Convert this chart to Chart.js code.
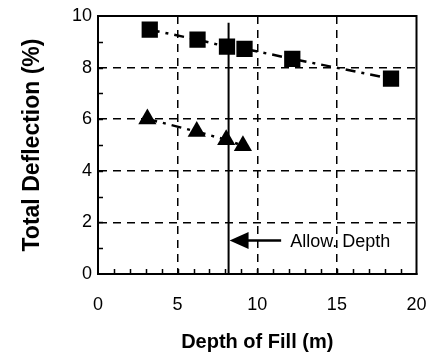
<!DOCTYPE html>
<html>
<head>
<meta charset="utf-8">
<script src="https://cdn.jsdelivr.net/npm/chart.js@4/dist/chart.umd.min.js"></script>
<style>
  html, body { margin: 0; padding: 0; background: #fff; }
  #wrap { width: 428px; height: 359px; }
</style>
</head>
<body>
<div id="wrap"><canvas id="c" width="428" height="359"></canvas></div>
<script>
// ---- data ----
const squareDepth = [3.25, 6.25, 8.1, 9.2, 12.2, 18.4];
const squareDefl  = [9.47, 9.08, 8.81, 8.73, 8.34, 7.57];
const triDepth    = [3.1, 6.2, 8.05, 9.1];
const triDefl     = [6.01, 5.52, 5.2, 4.97];
const allowDepth  = 8.2;        // vertical "allowable depth" line
const allowTop    = 9.74;       // top of that line
const arrowY      = 1.3;        // arrow level
const arrowEndX   = 11.5;       // tail of arrow
const arrowLabel  = 'Allow. Depth';
const xTicks = [0, 5, 10, 15, 20];
const yTicks = [0, 2, 4, 6, 8, 10];
const xTitle = 'Depth of Fill (m)';
const yTitle = 'Total Deflection (%)';

const FONT = "'Liberation Sans', Arial, Helvetica, sans-serif";

const pts = (xs, ys) => xs.map((x, i) => ({ x: x, y: ys[i] }));

const decor = {
  id: 'decor',
  beforeDatasetsDraw(chart) {
    const { ctx, chartArea: a, scales: { x, y } } = chart;
    ctx.save();
    ctx.strokeStyle = '#000';
    ctx.lineWidth = 1.5;
    // inward minor ticks on left and bottom axes
    ctx.beginPath();
    for (let v = 1; v < 10; v++) {
      const py = Math.round(y.getPixelForValue(v)) + 0.5;
      ctx.moveTo(a.left, py); ctx.lineTo(a.left + 5, py);
    }
    for (let v = 1; v < 20; v++) {
      const px = Math.round(x.getPixelForValue(v)) + 0.5;
      ctx.moveTo(px, a.bottom); ctx.lineTo(px, a.bottom - 5);
    }
    ctx.stroke();
    ctx.restore();
  },
  afterDatasetsDraw(chart) {
    const { ctx, chartArea: a, scales: { x, y } } = chart;
    ctx.save();
    // frame
    ctx.strokeStyle = '#000';
    ctx.lineWidth = 2;
    ctx.strokeRect(a.left, a.top, a.right - a.left, a.bottom - a.top);
    // arrow
    const ax = x.getPixelForValue(allowDepth) + 1;
    const ay = y.getPixelForValue(arrowY);
    const ex = x.getPixelForValue(arrowEndX);
    ctx.lineWidth = 2.5;
    ctx.beginPath();
    ctx.moveTo(ax + 12, ay); ctx.lineTo(ex, ay);
    ctx.stroke();
    ctx.fillStyle = '#000';
    ctx.beginPath();
    ctx.moveTo(ax, ay);
    ctx.lineTo(ax + 19, ay - 8.5);
    ctx.lineTo(ax + 19, ay + 8.5);
    ctx.closePath();
    ctx.fill();
    // label
    ctx.font = '18px ' + FONT;
    ctx.textBaseline = 'middle';
    ctx.textAlign = 'left';
    ctx.fillText(arrowLabel, ex + 9, ay + 2);
    ctx.restore();
  }
};

new Chart(document.getElementById('c'), {
  type: 'scatter',
  data: {
    datasets: [
      {
        data: pts(squareDepth, squareDefl),
        showLine: true,
        borderColor: '#000',
        borderWidth: 2.5,
        borderDash: [10, 6, 3, 6],
        pointStyle: 'rect',
        pointRadius: 11.5,
        pointBackgroundColor: '#000',
        pointBorderColor: '#000',
        pointBorderWidth: 0
      },
      {
        data: pts(triDepth, triDefl),
        showLine: true,
        borderColor: '#000',
        borderWidth: 2.5,
        borderDash: [10, 6, 3, 6],
        pointStyle: 'triangle',
        pointRadius: 10.5,
        pointBackgroundColor: '#000',
        pointBorderColor: '#000',
        pointBorderWidth: 0
      },
      {
        data: [{ x: allowDepth, y: 0 }, { x: allowDepth, y: allowTop }],
        showLine: true,
        borderColor: '#000',
        borderWidth: 2,
        pointRadius: 0
      }
    ]
  },
  options: {
    responsive: false,
    animation: false,
    events: [],
    layout: { padding: { top: 16, right: 10, left: 0, bottom: 0 } },
    plugins: { legend: { display: false }, tooltip: { enabled: false } },
    scales: {
      x: {
        type: 'linear',
        min: 0, max: 20,
        afterFit(s) { s.height = 85; s.paddingRight = 0; s.paddingLeft = 0; },
        afterBuildTicks(s) { s.ticks = xTicks.map(v => ({ value: v })); },
        ticks: {
          color: '#000',
          font: { family: FONT, size: 18 },
          padding: 20,
          maxRotation: 0
        },
        grid: {
          drawTicks: false,
          lineWidth: 1.5,
          color: c => (c.tick && (c.tick.value === 0 || c.tick.value === 20)) ? 'rgba(0,0,0,0)' : '#000'
        },
        border: { display: true, color: '#000', width: 2, dash: [8, 6] },
        title: {
          display: true,
          text: xTitle,
          color: '#000',
          font: { family: FONT, size: 20, weight: 'bold' },
          padding: { top: 0, bottom: 5 }
        }
      },
      y: {
        type: 'linear',
        min: 0, max: 10,
        afterFit(s) { s.width = 98; s.paddingTop = 0; s.paddingBottom = 0; },
        afterBuildTicks(s) { s.ticks = yTicks.map(v => ({ value: v })); },
        ticks: {
          color: '#000',
          font: { family: FONT, size: 18 },
          padding: 6
        },
        grid: {
          drawTicks: false,
          lineWidth: 1.5,
          color: c => (c.tick && (c.tick.value === 0 || c.tick.value === 10)) ? 'rgba(0,0,0,0)' : '#000'
        },
        border: { display: true, color: '#000', width: 2, dash: [8, 6] },
        title: {
          display: true,
          text: yTitle,
          color: '#000',
          font: { family: FONT, size: 23, weight: 'bold' },
          padding: { top: 19, bottom: 0 }
        }
      }
    }
  },
  plugins: [decor]
});
</script>
</body>
</html>
